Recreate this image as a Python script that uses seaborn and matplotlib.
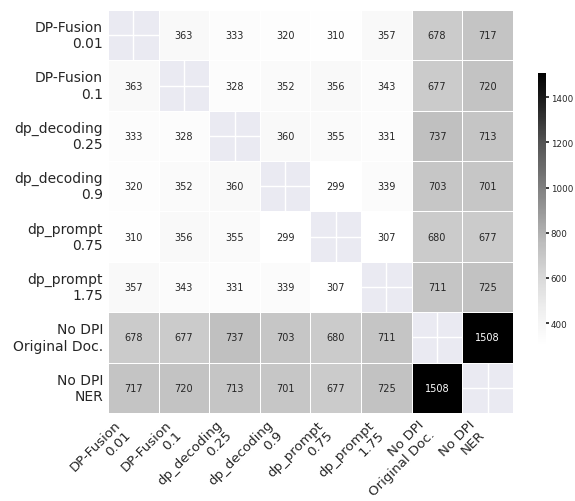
import numpy as np
import pandas as pd
import matplotlib
matplotlib.use("Agg")
import matplotlib.pyplot as plt
import seaborn as sns

labels = ["DP-Fusion\n0.01", "DP-Fusion\n0.1", "dp_decoding\n0.25", "dp_decoding\n0.9",
          "dp_prompt\n0.75", "dp_prompt\n1.75", "No DPI\nOriginal Doc.", "No DPI\nNER"]

row0 = [np.nan, 363, 333, 320, 310, 357, 678, 717]
row1 = [363, np.nan, 328, 352, 356, 343, 677, 720]
row2 = [333, 328, np.nan, 360, 355, 331, 737, 713]
row3 = [320, 352, 360, np.nan, 299, 339, 703, 701]
row4 = [310, 356, 355, 299, np.nan, 307, 680, 677]
row5 = [357, 343, 331, 339, 307, np.nan, 711, 725]
row6 = [678, 677, 737, 703, 680, 711, np.nan, 1508]
row7 = [717, 720, 713, 701, 677, 725, 1508, np.nan]

data = pd.DataFrame([row0, row1, row2, row3, row4, row5, row6, row7],
                    index=labels, columns=labels)

sns.set_theme(style="darkgrid")
fig = plt.figure(figsize=(5.75, 5.02), dpi=100)
ax = fig.add_axes([0.1878, 0.1753, 0.7043, 0.8028])
cax = fig.add_axes([0.935, 0.309, 0.014, 0.544])

sns.heatmap(data, ax=ax, cbar_ax=cax, cmap="Greys", annot=True, fmt=".0f",
            annot_kws={"size": 7}, linewidths=0.5, linecolor="white",
            mask=data.isna())

ax.set_xticklabels(ax.get_xticklabels(), rotation=45, ha="right", fontsize=9.6,
                   linespacing=1.1)
ax.set_yticklabels(ax.get_yticklabels(), rotation=0, fontsize=10)
ax.tick_params(axis="both", length=0)
cax.tick_params(labelsize=6.3, length=2, pad=1.5)

fig.savefig("out.png", dpi=100)
